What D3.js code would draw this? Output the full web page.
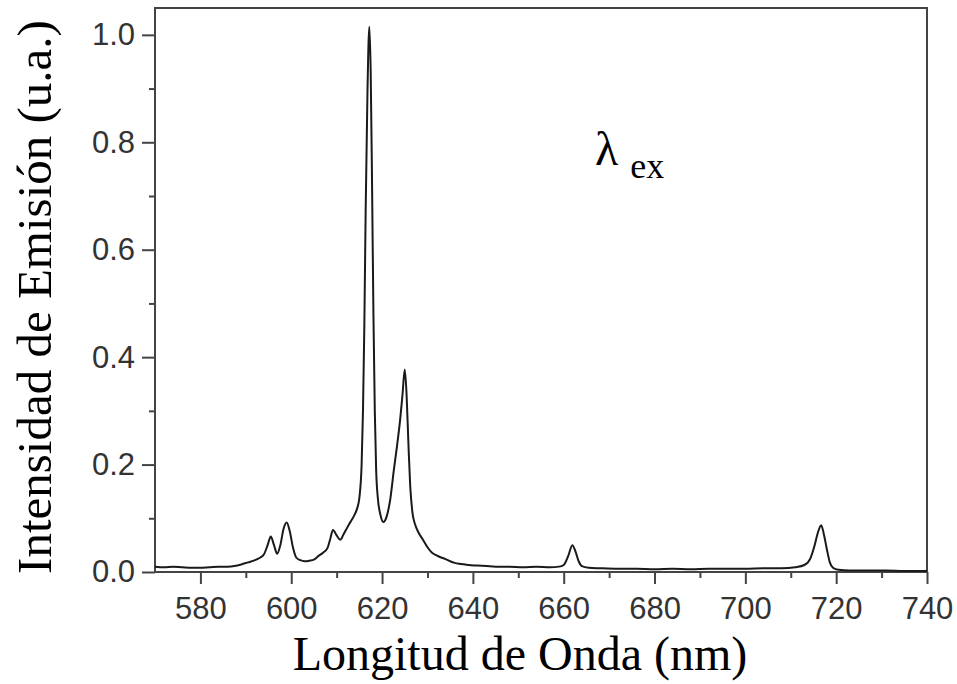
<!DOCTYPE html>
<html>
<head>
<meta charset="utf-8">
<script src="https://cdn.jsdelivr.net/npm/d3@7"></script>
<style>
  html, body { margin: 0; padding: 0; background: #fff; }
  svg { display: block; }
</style>
</head>
<body>
<svg id="chart" width="957" height="684"></svg>
<script>
// ---- Data ----
const wavelength = [
  570, 572, 574, 576, 578, 580, 582, 584, 586, 587.5,
  589, 590.5, 592, 593, 594, 594.8, 595.5, 596.2, 596.9, 597.6,
  598.3, 599.0, 599.7, 600.4, 601.1, 602, 603, 604, 605, 606,
  607, 608, 608.6, 609.2, 610, 610.8, 611.5, 612.1, 612.8, 613.4,
  613.9, 614.5, 615.0, 615.5, 615.8, 616.1, 616.4, 616.8, 617.2, 617.5,
  617.8, 618.1, 618.4, 618.7, 619.1, 619.6, 620.3, 621.0, 621.8, 622.6,
  623.3, 624.0, 624.5, 625.0, 625.4, 625.8, 626.2, 626.7, 627.3, 628,
  629, 630, 631, 632, 633, 634, 635, 636, 637.5, 639,
  641, 643, 645, 648, 651, 654, 657, 659, 660, 661,
  661.9, 662.6, 663.3, 664, 665.5, 668, 672, 676, 680, 684,
  688, 692, 696, 700, 704, 708, 711, 713, 714.3, 715.2,
  716.0, 716.7, 717.3, 718.0, 718.6, 719.3, 720.5, 723, 727, 731,
  735, 740
];
const intensity = [
  0.010, 0.009, 0.010, 0.009, 0.008, 0.008, 0.009, 0.010, 0.010, 0.011,
  0.014, 0.018, 0.022, 0.026, 0.033, 0.050, 0.066, 0.050, 0.034, 0.050,
  0.080, 0.092, 0.075, 0.045, 0.027, 0.022, 0.020, 0.021, 0.023, 0.030,
  0.036, 0.045, 0.062, 0.078, 0.068, 0.060, 0.070, 0.079, 0.090, 0.098,
  0.106, 0.118, 0.138, 0.200, 0.300, 0.460, 0.680, 0.900, 1.015, 0.930,
  0.720, 0.480, 0.300, 0.190, 0.135, 0.108, 0.093, 0.103, 0.135, 0.190,
  0.235, 0.285, 0.330, 0.377, 0.330, 0.240, 0.160, 0.110, 0.088, 0.074,
  0.060, 0.046, 0.036, 0.031, 0.027, 0.024, 0.020, 0.017, 0.015, 0.013,
  0.012, 0.011, 0.010, 0.010, 0.009, 0.010, 0.009, 0.010, 0.013, 0.030,
  0.050, 0.038, 0.020, 0.011, 0.008, 0.007, 0.006, 0.006, 0.005, 0.006,
  0.005, 0.006, 0.006, 0.006, 0.007, 0.007, 0.009, 0.013, 0.025, 0.048,
  0.074, 0.087, 0.070, 0.040, 0.018, 0.008, 0.004, 0.003, 0.003, 0.003,
  0.002, 0.002
];
const xMajorTicks = [580, 600, 620, 640, 660, 680, 700, 720, 740];
const xMinorTicks = [590, 610, 630, 650, 670, 690, 710, 730];
const yMajorTicks = [0.0, 0.2, 0.4, 0.6, 0.8, 1.0];
const yMinorTicks = [0.1, 0.3, 0.5, 0.7, 0.9];
const xTitle = "Longitud de Onda (nm)";
const yTitle = "Intensidad de Emisión (u.a.)";
const annotationMain = "λ";
const annotationSub = "ex";

// ---- Layout ----
const svg = d3.select("#chart");
const plot = { left: 155, right: 927, top: 8, bottom: 572 };

const x = d3.scaleLinear().domain([570, 740]).range([plot.left, plot.right]);
const y = d3.scaleLinear().domain([0, 1.05]).range([plot.bottom, plot.top]);

const tickFont = "'Liberation Sans', Arial, Helvetica, sans-serif";
const serifFont = "'Liberation Serif', 'Times New Roman', Times, serif";
const axisColor = "#444";

// X axis major
const gxMaj = svg.append("g")
  .attr("transform", `translate(0,${plot.bottom})`)
  .call(d3.axisBottom(x).tickValues(xMajorTicks).tickSize(12).tickPadding(13).tickFormat(d3.format("d")));
// X axis minor
const gxMin = svg.append("g")
  .attr("transform", `translate(0,${plot.bottom})`)
  .call(d3.axisBottom(x).tickValues(xMinorTicks).tickSize(6).tickFormat(""));
// Y axis major
const gyMaj = svg.append("g")
  .attr("transform", `translate(${plot.left},0)`)
  .call(d3.axisLeft(y).tickValues(yMajorTicks).tickSize(13).tickPadding(7).tickFormat(d3.format(".1f")));
// Y axis minor
const gyMin = svg.append("g")
  .attr("transform", `translate(${plot.left},0)`)
  .call(d3.axisLeft(y).tickValues(yMinorTicks).tickSize(6).tickFormat(""));

[gxMaj, gxMin, gyMaj, gyMin].forEach(g => {
  g.select(".domain").remove();
  g.selectAll(".tick line").attr("stroke", axisColor).attr("stroke-width", 2);
  g.selectAll(".tick text")
    .attr("font-family", tickFont)
    .attr("font-size", 31)
    .attr("fill", "#333");
});

// Frame
svg.append("rect")
  .attr("x", plot.left).attr("y", plot.top)
  .attr("width", plot.right - plot.left).attr("height", plot.bottom - plot.top)
  .attr("fill", "none").attr("stroke", axisColor).attr("stroke-width", 2);

// Spectrum line
const data = wavelength.map((w, i) => ({ w, v: intensity[i] }));
const line = d3.line()
  .x(d => x(d.w))
  .y(d => y(d.v))
  .curve(d3.curveMonotoneX);

svg.append("path")
  .datum(data)
  .attr("d", line)
  .attr("fill", "none")
  .attr("stroke", "#1a1a1a")
  .attr("stroke-width", 2)
  .attr("stroke-linejoin", "round");

// Axis titles
svg.append("text")
  .attr("x", 520).attr("y", 670)
  .attr("text-anchor", "middle")
  .attr("font-family", serifFont)
  .attr("font-size", 48)
  .attr("fill", "#000")
  .text(xTitle);

svg.append("text")
  .attr("transform", "translate(51,297) rotate(-90)")
  .attr("text-anchor", "middle")
  .attr("font-family", serifFont)
  .attr("font-size", 49)
  .attr("fill", "#000")
  .text(yTitle);

// Annotation λex
const ann = svg.append("text")
  .attr("x", 595).attr("y", 165)
  .attr("font-family", serifFont)
  .attr("fill", "#000");
ann.append("tspan").attr("font-size", 48).text(annotationMain);
ann.append("tspan").attr("font-size", 36).attr("dx", 12).attr("dy", 13).text(annotationSub);
</script>
</body>
</html>
